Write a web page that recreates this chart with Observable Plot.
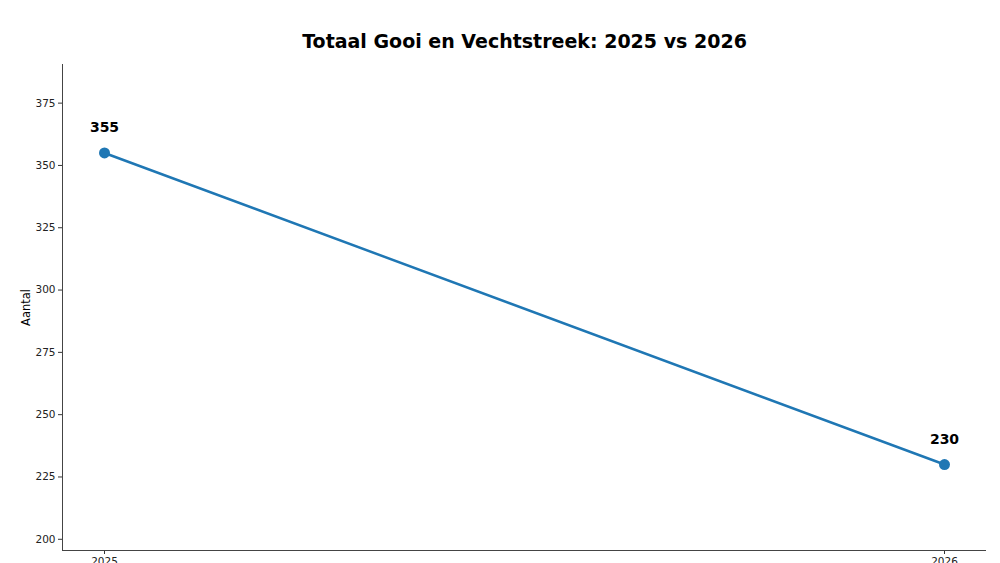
<!DOCTYPE html>
<html>
<head>
<meta charset="utf-8">
<script src="https://cdn.jsdelivr.net/npm/d3@7"></script>
<script src="https://cdn.jsdelivr.net/npm/@observablehq/plot@0.6"></script>
<style>
  html, body { margin: 0; padding: 0; background: #fff; overflow: hidden; }
  #chart svg { overflow: visible; }
</style>
</head>
<body>
<div id="chart"></div>
<script>
const years = [2025, 2026];
const totals = [355, 230];
const yTicks = [200, 225, 250, 275, 300, 325, 350, 375];
const titleText = "Totaal Gooi en Vechtstreek: 2025 vs 2026";
const yLabel = "Aantal";

const data = years.map((y, i) => ({year: y, value: totals[i]}));
const color = "#1f77b4";
const font = "DejaVu Sans, sans-serif";

const chart = Plot.plot({
  width: 1000,
  height: 563,
  marginTop: 64,
  marginBottom: 13,
  marginLeft: 62,
  marginRight: 14,
  style: {fontFamily: font, fontSize: "10.5px", color: "#000", background: "#fff"},
  x: {domain: [2024.95, 2026.05], ticks: years, tickFormat: d => String(d), label: null},
  y: {domain: [195.5, 390.5], ticks: yTicks, label: null},
  marks: [
    Plot.axisY({ticks: yTicks, tickSize: 4, tickPadding: 3, fill: "#222", stroke: "#333", label: null}),
    Plot.axisX({ticks: years, tickSize: 4, tickPadding: 3, fill: "#222", stroke: "#333", tickFormat: d => String(d), label: null}),
    Plot.ruleX([2024.95], {stroke: "#444", strokeWidth: 1}),
    Plot.ruleY([195.5], {stroke: "#444", strokeWidth: 1}),
    Plot.line(data, {x: "year", y: "value", stroke: color, strokeWidth: 2.5}),
    Plot.dot(data, {x: "year", y: "value", r: 5.5, fill: color, stroke: null}),
    Plot.text(data, {x: "year", y: "value", text: d => String(d.value), dy: -25, fontSize: 14, fontWeight: "bold", fill: "#000"}),
    Plot.text([titleText], {frameAnchor: "top", lineAnchor: "middle", dy: -23, fontSize: 19, fontWeight: "bold", fill: "#000"}),
    Plot.text([yLabel], {frameAnchor: "left", textAnchor: "middle", lineAnchor: "middle", dx: -36, rotate: -90, fontSize: 11.5, fill: "#000"})
  ]
});
document.getElementById("chart").appendChild(chart);
</script>
</body>
</html>
